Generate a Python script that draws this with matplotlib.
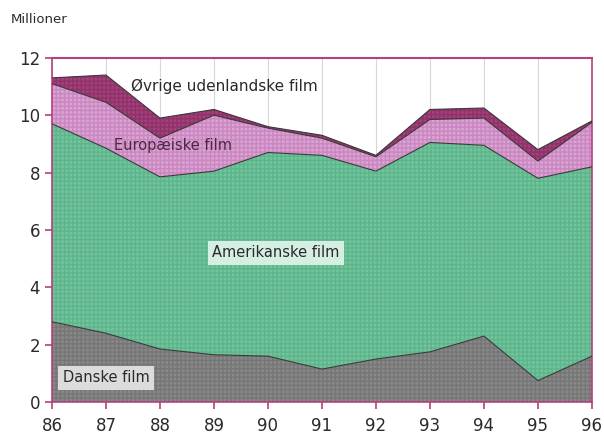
import matplotlib
matplotlib.use('Agg')
import matplotlib.pyplot as plt
import numpy as np

# year labels and cumulative readings (millions) turned into layer sizes
years = [86, 87, 88, 89, 90, 91, 92, 93, 94, 95, 96]
danske = [2.8, 2.4, 1.85, 1.65, 1.6, 1.15, 1.5, 1.75, 2.3, 0.75, 1.6]
amerikanske = [6.9, 6.45, 6.0, 6.4, 7.1, 7.45, 6.55, 7.3, 6.65, 7.05, 6.6]
europaeiske = [1.4, 1.6, 1.35, 1.95, 0.85, 0.6, 0.5, 0.8, 0.95, 0.6, 1.55]
oevrige = [0.2, 0.95, 0.7, 0.2, 0.05, 0.1, 0.05, 0.35, 0.35, 0.4, 0.05]

spine_col = '#b5407f'
cols = ['#888888', '#6fc69c', '#dba2d3', '#a4407c']
hatch_cols = ['#767676', '#60b48c', '#c987bf', '#8f3269']

fig = plt.figure(figsize=(6.04, 4.38), dpi=100)
ax = fig.add_axes([0.086, 0.082, 0.894, 0.786])

for yr in years:
    ax.axvline(yr, color='#d8d8d8', lw=0.8, zorder=0)

layers = [danske, amerikanske, europaeiske, oevrige]
base = np.zeros(len(years))
for i, lay in enumerate(layers):
    top = base + np.array(lay)
    ax.fill_between(years, base, top, facecolor=cols[i], edgecolor=hatch_cols[i],
                    hatch='++++', lw=0, zorder=2)
    ax.plot(years, top, color='#3a3a3a', lw=0.8, zorder=3)
    base = top

ax.set_xlim(86, 96)
ax.set_ylim(0, 12)
ax.set_xticks(years)
ax.set_xticklabels([str(y) for y in years])
ax.set_yticks([0, 2, 4, 6, 8, 10, 12])
for s in ax.spines.values():
    s.set_color(spine_col)
    s.set_linewidth(1.2)
ax.spines['top'].set_linewidth(1.5)
ax.tick_params(axis='both', colors=spine_col, labelcolor='#2a2a2a',
               labelsize=12, length=5, width=1.2, direction='out')
ax.tick_params(axis='x', pad=6)

fig.text(0.017, 0.955, 'Millioner', fontsize=9.5, color='#2a2a2a', va='center')

ax.text(89.2, 11.0, 'Øvrige udenlandske film', fontsize=11, color='#2a2a2a',
        ha='center', va='center', zorder=5)
ax.text(88.25, 8.95, 'Europæiske film', fontsize=10.5, color='#4a2a40',
        ha='center', va='center', zorder=5)
ax.text(90.15, 5.2, 'Amerikanske film', fontsize=10.5, color='#2a2a2a',
        ha='center', va='center', zorder=5,
        bbox=dict(boxstyle='square,pad=0.3', fc='#d5efe2', ec='none'))
ax.text(87.0, 0.85, 'Danske film', fontsize=10.5, color='#2a2a2a',
        ha='center', va='center', zorder=5,
        bbox=dict(boxstyle='square,pad=0.3', fc='#dcdcdc', ec='none'))

fig.savefig('out.png', dpi=100)
